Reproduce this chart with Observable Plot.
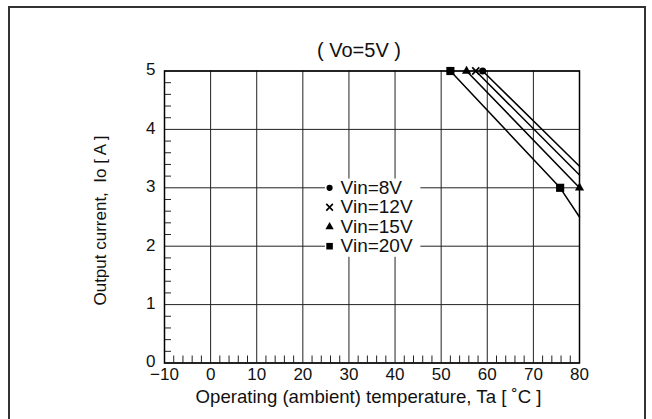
<!DOCTYPE html>
<html>
<head>
<meta charset="utf-8">
<script src="https://cdn.jsdelivr.net/npm/d3@7"></script>
<script src="https://cdn.jsdelivr.net/npm/@observablehq/plot@0.6"></script>
<style>
  body { margin: 0; background: #fff; }
  #wrap { position: relative; width: 652px; height: 419px; overflow: hidden; background: #fff; }
  #border { position: absolute; left: 8px; top: 6px; width: 634px; height: 430px; border: 2px solid #333; pointer-events: none; }
</style>
</head>
<body>
<div id="wrap"></div>
<script>
// ---- data ----
const xTicks = [-10, 0, 10, 20, 30, 40, 50, 60, 70, 80];
const xTickLabels = ["−10", "0", "10", "20", "30", "40", "50", "60", "70", "80"];
const yTicks = [0, 1, 2, 3, 4, 5];
const yTickLabels = ["0", "1", "2", "3", "4", "5"];
const xMinor = d3.range(-8, 80, 2).filter(d => d % 10 !== 0);
const yMinor = d3.range(0.2, 5, 0.2).filter(d => Math.abs(d - Math.round(d)) > 1e-6);

const seriesNames = ["Vin=8V", "Vin=12V", "Vin=15V", "Vin=20V"];
const seriesSymbols = ["circle", "times", "triangle", "square"];

// derating curves (Ta [°C], Io [A])
const curveSeries = ["Vin=8V", "Vin=8V", "Vin=12V", "Vin=12V", "Vin=15V", "Vin=15V", "Vin=20V", "Vin=20V", "Vin=20V"];
const curveTa     = [59, 80, 57.5, 80, 55.5, 80, 52, 75.8, 80];
const curveIo     = [5, 3.37, 5, 3.22, 5, 3.0, 5, 3.0, 2.5];

// marker points
const markerSeries = ["Vin=8V", "Vin=12V", "Vin=15V", "Vin=20V", "Vin=15V", "Vin=20V"];
const markerTa     = [59, 57.5, 55.5, 52, 80, 75.8];
const markerIo     = [5, 5, 5, 5, 3, 3];

// legend entries (placed in data space inside the frame)
const legendTa = 25.8;
const legendIo = [3, 2.667, 2.333, 2];
const legendBox = {x1: 24.9, x2: 45.6, y1: 1.81, y2: 3.15};

const titleText = "( Vo=5V )";
const xLabel = "Operating (ambient) temperature, Ta [ ˚C ]";
const yLabel = "Output current,  Io [ A ]";

// ---- tables ----
const curves = curveTa.map((t, i) => ({s: curveSeries[i], x: t, y: curveIo[i]}));
const markers = markerTa.map((t, i) => ({s: markerSeries[i], x: t, y: markerIo[i], sym: seriesSymbols[seriesNames.indexOf(markerSeries[i])]}));
const legend = seriesNames.map((s, i) => ({s, x: legendTa, y: legendIo[i], sym: seriesSymbols[i]}));

const symSize = {circle: 3.5, times: 3.3, triangle: 3.4, square: 4.6};
const legSize = {circle: 3.1, times: 3.1, triangle: 3.1, square: 3.7};

function dotMarks(data, sizes) {
  return seriesSymbols.map(sym => Plot.dot(data.filter(d => d.sym === sym), {
    x: "x", y: "y", symbol: () => sym, r: sizes[sym],
    fill: sym === "times" ? "none" : "#000",
    stroke: sym === "times" ? "#000" : "none",
    strokeWidth: 1.7
  }));
}

const W = 652, H = 419, mL = 164, mR = 73, mT = 70.5, mB = 56.5;
const frameW = W - mL - mR, frameH = H - mT - mB;

const chart = Plot.plot({
  width: W, height: H,
  marginLeft: mL, marginRight: mR, marginTop: mT, marginBottom: mB,
  x: {domain: [-10, 80]},
  y: {domain: [0, 5]},
  symbol: {type: "identity"},
  style: {fontFamily: "'Liberation Sans', Arial, Helvetica, sans-serif", color: "#111", background: "#fff"},
  marks: [
    Plot.gridX(xTicks, {stroke: "#222", strokeOpacity: 1, strokeWidth: 1}),
    Plot.gridY(yTicks, {stroke: "#222", strokeOpacity: 1, strokeWidth: 1}),
    Plot.tickY(yMinor, {y: d => d, insetRight: frameW - 7, stroke: "#222", strokeWidth: 1}),
    Plot.tickX(xMinor, {x: d => d, insetTop: frameH - 7, stroke: "#222", strokeWidth: 1}),
    Plot.rect([legendBox], {x1: "x1", x2: "x2", y1: "y1", y2: "y2", fill: "#fff"}),
    Plot.frame({stroke: "#000", strokeWidth: 1.5}),
    Plot.axisY(yTicks, {tickSize: 0, tickPadding: 9, dy: -1, fontSize: 17, label: null,
      tickFormat: d => yTickLabels[yTicks.indexOf(d)]}),
    Plot.axisX(xTicks, {tickSize: 0, tickPadding: 5, fontSize: 17, label: null,
      tickFormat: d => xTickLabels[xTicks.indexOf(d)]}),
    Plot.line(curves, {x: "x", y: "y", z: "s", stroke: "#000", strokeWidth: 1.5}),
    ...dotMarks(markers, symSize),
    ...dotMarks(legend, legSize),
    Plot.text(legend, {x: "x", y: "y", text: "s", dx: 11, textAnchor: "start", fontSize: 19, fill: "#111"}),
    Plot.text([titleText], {frameAnchor: "top", lineAnchor: "middle", textAnchor: "middle", dy: -20.5, dx: -13, fontSize: 20, fill: "#111", style: "letter-spacing:0.6px"}),
    Plot.text([xLabel], {frameAnchor: "bottom", lineAnchor: "middle", textAnchor: "middle", dy: 34.5, dx: -3.5, fontSize: 18.6, fill: "#111"}),
    Plot.text([yLabel], {frameAnchor: "left", lineAnchor: "middle", textAnchor: "middle", rotate: -90, dx: -64, dy: 3.5, fontSize: 17, fill: "#111"})
  ]
});

const wrap = document.getElementById("wrap");
wrap.appendChild(chart);
const b = document.createElement("div");
b.id = "border";
wrap.appendChild(b);
</script>
</body>
</html>
